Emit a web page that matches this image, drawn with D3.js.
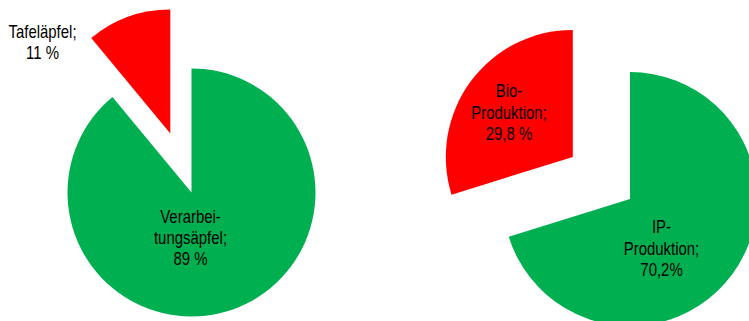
<!DOCTYPE html>
<html>
<head>
<meta charset="utf-8">
<script src="https://cdn.jsdelivr.net/npm/d3@7"></script>
<style>
  html, body { margin: 0; padding: 0; background: #fff; }
  svg { display: block; }
</style>
</head>
<body>
<svg id="chart" width="749" height="321"></svg>
<script>
// Apple usage split (left) and production method split (right)
const usageCategories = ["Verarbeitungsäpfel", "Tafeläpfel"];
const usageValues = [89, 11];
const usageLabels = [["Verarbei-", "tungsäpfel;", "89 %"], ["Tafeläpfel;", "11 %"]];

const productionCategories = ["IP-Produktion", "Bio-Produktion"];
const productionValues = [70.2, 29.8];
const productionLabels = [["IP-", "Produktion;", "70,2%"], ["Bio-", "Produktion;", "29,8 %"]];

const sliceColors = ["#00B050", "#FF0000"];

const svg = d3.select("#chart");

// Layout: pie centres, radii, explosion distance of the second slice,
// and label anchors (first baseline) relative to the pie centre.
const pies = [
  {
    categories: usageCategories, values: usageValues, labels: usageLabels,
    cx: 191.5, cy: 192.5, r: 124, explode: [0, 62.6],
    labelPos: [[-1, 30], [-149, -155]]
  },
  {
    categories: productionCategories, values: productionValues, labels: productionLabels,
    cx: 630, cy: 199, r: 127, explode: [0, 71],
    labelPos: [[31.5, 34.3], [-121, -101.7]]
  }
];

const pieGen = d3.pie().sort(null).value(d => d.value);
const lineHeight = 21.5;

pies.forEach(p => {
  const data = p.categories.map((c, i) => ({ name: c, value: p.values[i], lines: p.labels[i], idx: i }));
  const arcs = pieGen(data);
  const arc = d3.arc().innerRadius(0).outerRadius(p.r);
  const g = svg.append("g").attr("transform", `translate(${p.cx},${p.cy})`);

  g.selectAll("path.slice")
    .data(arcs)
    .join("path")
    .attr("class", "slice")
    .attr("fill", d => sliceColors[d.data.idx])
    .attr("transform", d => {
      const mid = (d.startAngle + d.endAngle) / 2;
      const off = p.explode[d.data.idx];
      return `translate(${off * Math.sin(mid)},${-off * Math.cos(mid)})`;
    })
    .attr("d", arc);

  arcs.forEach(d => {
    const [lx, ly] = p.labelPos[d.data.idx];
    const t = g.append("text")
      .attr("transform", `translate(${lx},${ly}) scale(0.83,1)`)
      .attr("text-anchor", "middle")
      .attr("font-family", "'Liberation Sans', Arial, sans-serif")
      .attr("font-size", 18)
      .attr("fill", "#000");
    d.data.lines.forEach((line, k) => {
      t.append("tspan").attr("x", 0).attr("y", k * lineHeight).text(line);
    });
  });
});
</script>
</body>
</html>
